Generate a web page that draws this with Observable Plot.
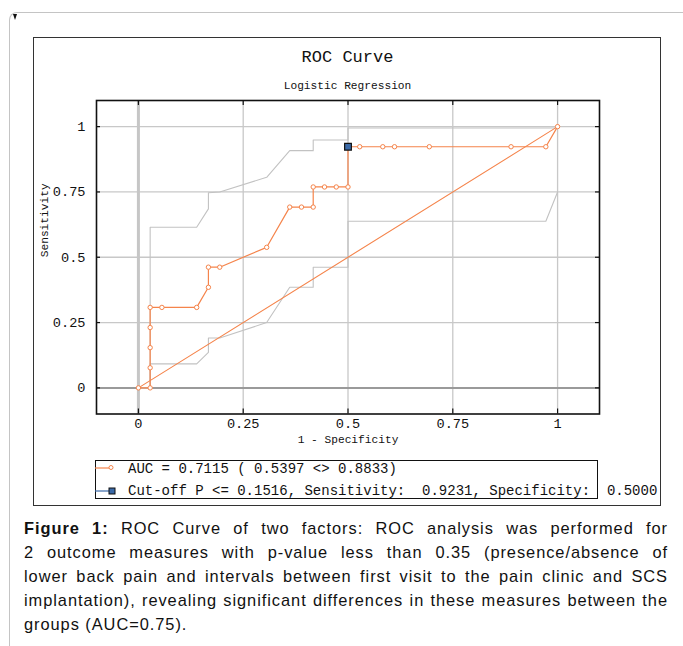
<!DOCTYPE html>
<html>
<head>
<meta charset="utf-8">
<script src="https://cdn.jsdelivr.net/npm/d3@7"></script>
<script src="https://cdn.jsdelivr.net/npm/@observablehq/plot@0.6"></script>
<style>
  html, body { margin: 0; padding: 0; background: #fff; }
  body { width: 683px; height: 646px; position: relative; overflow: hidden; }
  .outer { position: absolute; left: 9px; top: 12px; width: 700px; height: 700px;
           border-left: 1.5px solid #c4c4c4; border-top: 1.5px solid #c4c4c4; border-top-left-radius: 8px; }
  .mark { position: absolute; left: 13px; top: 14px; width: 0; height: 0;
          border-left: 2px solid transparent; border-right: 2px solid transparent; border-top: 6px solid #111; }
  .chartframe { position: absolute; left: 33px; top: 37px; width: 626px; height: 467px; border: 1px solid #333; }
  .mono { font-family: "Liberation Mono", "DejaVu Sans Mono", monospace; color: #111; white-space: pre; }
  .title { position: absolute; left: 96px; width: 503px; top: 47px; text-align: center; font-size: 17px; line-height: 22px; }
  .subtitle { position: absolute; left: 96px; width: 503px; top: 78px; text-align: center; font-size: 11.2px; line-height: 16px; }
  #plot { position: absolute; left: 33px; top: 90px; }
  .legend { position: absolute; left: 95px; top: 460px; width: 501px; height: 37px; border: 1px solid #111; }
  .lrow { position: absolute; left: 0; height: 18px; font-size: 14px; line-height: 18px; }
  .caption { position: absolute; left: 24px; top: 516px; width: 644px; font-family: "Liberation Sans", Arial, sans-serif;
             font-size: 16.4px; letter-spacing: 0.95px; line-height: 24px; color: #111; }
  .cline { white-space: nowrap; text-align: justify; text-align-last: justify; height: 24px; }
  .cline.last { text-align-last: left; text-align: left; }
</style>
</head>
<body>
<div class="outer"></div>
<div class="mark"></div>
<div class="chartframe"></div>
<div class="title mono" id="title"></div>
<div class="subtitle mono" id="subtitle"></div>
<div id="plot"></div>
<div class="legend" id="legend"></div>
<div class="caption" id="caption"></div>
<script>
// ---- data ----
const titleText = "ROC Curve";
const subtitleText = "Logistic Regression";
const xLabel = "1 - Specificity";
const yLabel = "Sensitivity";
const xTicks = [0, 0.25, 0.5, 0.75, 1];
const yTicks = [0, 0.25, 0.5, 0.75, 1];
const tickLabels = ["0", "0.25", "0.5", "0.75", "1"];

// ROC curve (1 - specificity, sensitivity)
const rocX = [0, 0.028, 0.028, 0.028, 0.028, 0.028, 0.056, 0.139, 0.167, 0.167, 0.194, 0.306, 0.361, 0.389, 0.417, 0.417, 0.444, 0.472, 0.5, 0.5, 0.528, 0.583, 0.611, 0.694, 0.889, 0.972, 1];
const rocY = [0, 0, 0.077, 0.154, 0.231, 0.308, 0.308, 0.308, 0.385, 0.462, 0.462, 0.538, 0.692, 0.692, 0.692, 0.769, 0.769, 0.769, 0.769, 0.923, 0.923, 0.923, 0.923, 0.923, 0.923, 0.923, 1];

// confidence band (upper / lower)
const upperX = [0, 0.028, 0.028, 0.139, 0.167, 0.167, 0.194, 0.306, 0.361, 0.417, 0.417, 0.5, 0.5, 1];
const upperY = [0, 0, 0.615, 0.615, 0.685, 0.747, 0.75, 0.806, 0.908, 0.908, 0.949, 0.949, 0.995, 0.995];
const lowerX = [0, 0.028, 0.028, 0.139, 0.167, 0.167, 0.194, 0.306, 0.361, 0.417, 0.417, 0.5, 0.5, 0.972, 1];
const lowerY = [0, 0, 0.092, 0.092, 0.136, 0.191, 0.191, 0.25, 0.385, 0.385, 0.462, 0.462, 0.638, 0.638, 0.75];

// chance diagonal
const diagX = [0, 1];
const diagY = [0, 1];

// cut-off point
const cutX = [0.5];
const cutY = [0.9231];

const legendAUC = "AUC = 0.7115 ( 0.5397 <> 0.8833)";
const legendCut = "Cut-off P <= 0.1516, Sensitivity:  0.9231, Specificity:  0.5000";

const captionBold = "Figure 1:";
const captionLines = [
  " ROC Curve of two factors: ROC analysis was performed for",
  "2 outcome measures with p-value less than 0.35 (presence/absence of",
  "lower back pain and intervals between first visit to the pain clinic and SCS",
  "implantation), revealing significant differences in these measures between the",
  "groups (AUC=0.75)."
];

// ---- build ----
const toPts = (xs, ys) => xs.map((x, i) => ({x, y: ys[i]}));
const roc = toPts(rocX, rocY);
const upper = toPts(upperX, upperY);
const lower = toPts(lowerX, lowerY);
const diag = toPts(diagX, diagY);
const cut = toPts(cutX, cutY);

const orange = "#f5844b";
const W = 600, H = 370, mL = 63, mR = 34, mT = 10, mB = 46.5;
const innerW = W - mL - mR, innerH = H - mT - mB;
const mono = "Liberation Mono, DejaVu Sans Mono, monospace";

document.getElementById("title").textContent = titleText;
document.getElementById("subtitle").textContent = subtitleText;

const plot = Plot.plot({
  width: W, height: H,
  marginLeft: mL, marginRight: mR, marginTop: mT, marginBottom: mB,
  style: {fontFamily: mono, color: "#111", background: "transparent", overflow: "visible"},
  x: {domain: [-0.1, 1.1], axis: null},
  y: {domain: [-0.1, 1.1], axis: null},
  marks: [
    Plot.ruleX(xTicks.filter(d => d !== 0), {x: d => d, stroke: "#c8c8c8", strokeWidth: 1.3}),
    Plot.ruleY(yTicks.filter(d => d !== 0), {y: d => d, stroke: "#c8c8c8", strokeWidth: 1.3}),
    Plot.ruleX([0], {x: d => d, stroke: "#c6c6c6", strokeWidth: 3}),
    Plot.ruleY([0], {y: d => d, stroke: "#9a9a9a", strokeWidth: 2}),
    Plot.line(upper, {x: "x", y: "y", stroke: "#c2c2c2", strokeWidth: 1.1}),
    Plot.line(lower, {x: "x", y: "y", stroke: "#c2c2c2", strokeWidth: 1.1}),
    Plot.line(diag, {x: "x", y: "y", stroke: orange, strokeWidth: 1.1}),
    Plot.line(roc, {x: "x", y: "y", stroke: orange, strokeWidth: 1.2}),
    Plot.dot(roc, {x: "x", y: "y", r: 2.2, stroke: orange, fill: "white", strokeWidth: 1}),
    Plot.dot(cut, {x: "x", y: "y", symbol: "square", r: 3.8, fill: "#3b6aa8", stroke: "#111", strokeWidth: 1.2}),
    Plot.frame({stroke: "#111", strokeWidth: 1.6}),
    Plot.tickX(xTicks, {x: d => d, stroke: "#111", strokeWidth: 1.2, insetBottom: innerH - 5}),
    Plot.tickX(xTicks, {x: d => d, stroke: "#111", strokeWidth: 1.2, insetTop: innerH - 5}),
    Plot.tickY(yTicks, {y: d => d, stroke: "#111", strokeWidth: 1.2, insetRight: innerW - 4}),
    Plot.tickY(yTicks, {y: d => d, stroke: "#111", strokeWidth: 1.2, insetLeft: innerW - 4}),
    Plot.text(xTicks, {x: d => d, frameAnchor: "bottom", dy: 14, text: (d, i) => tickLabels[i], fontSize: 13.6, fill: "#111"}),
    Plot.text(yTicks, {y: d => d, frameAnchor: "left", dx: -11, textAnchor: "end", text: (d, i) => tickLabels[i], fontSize: 13.6, fill: "#111"}),
    Plot.text([xLabel], {frameAnchor: "bottom", dy: 28.5, text: d => d, fontSize: 11.2, fill: "#111"}),
    Plot.text([yLabel], {frameAnchor: "left", dx: -52, rotate: -90, text: d => d, fontSize: 11.2, fill: "#111"})
  ]
});
document.getElementById("plot").appendChild(plot);

// legend
const legend = document.getElementById("legend");
legend.innerHTML = `
  <svg width="40" height="37" style="position:absolute;left:-1px;top:0;overflow:visible">
    <line x1="0" x2="16" y1="7" y2="7" stroke="${orange}" stroke-width="1.2"/>
    <circle cx="16" cy="6.5" r="2" fill="white" stroke="${orange}" stroke-width="1"/>
    <line x1="0" x2="15" y1="30" y2="30" stroke="#3b6aa8" stroke-width="1.2"/>
    <rect x="14" y="27" width="6" height="6" fill="#3b6aa8" stroke="#111" stroke-width="1"/>
  </svg>`;
const r1 = document.createElement("div");
r1.className = "lrow mono"; r1.style.left = "32px"; r1.style.top = "-1.5px"; r1.textContent = legendAUC;
const r2 = document.createElement("div");
r2.className = "lrow mono"; r2.style.left = "32px"; r2.style.top = "21px"; r2.textContent = legendCut;
legend.appendChild(r1); legend.appendChild(r2);

// caption
const cap = document.getElementById("caption");
captionLines.forEach((line, i) => {
  const div = document.createElement("div");
  div.className = "cline" + (i === captionLines.length - 1 ? " last" : "");
  if (i === 0) {
    const b = document.createElement("b"); b.textContent = captionBold;
    div.appendChild(b);
  }
  div.appendChild(document.createTextNode(line));
  cap.appendChild(div);
});
</script>
</body>
</html>
